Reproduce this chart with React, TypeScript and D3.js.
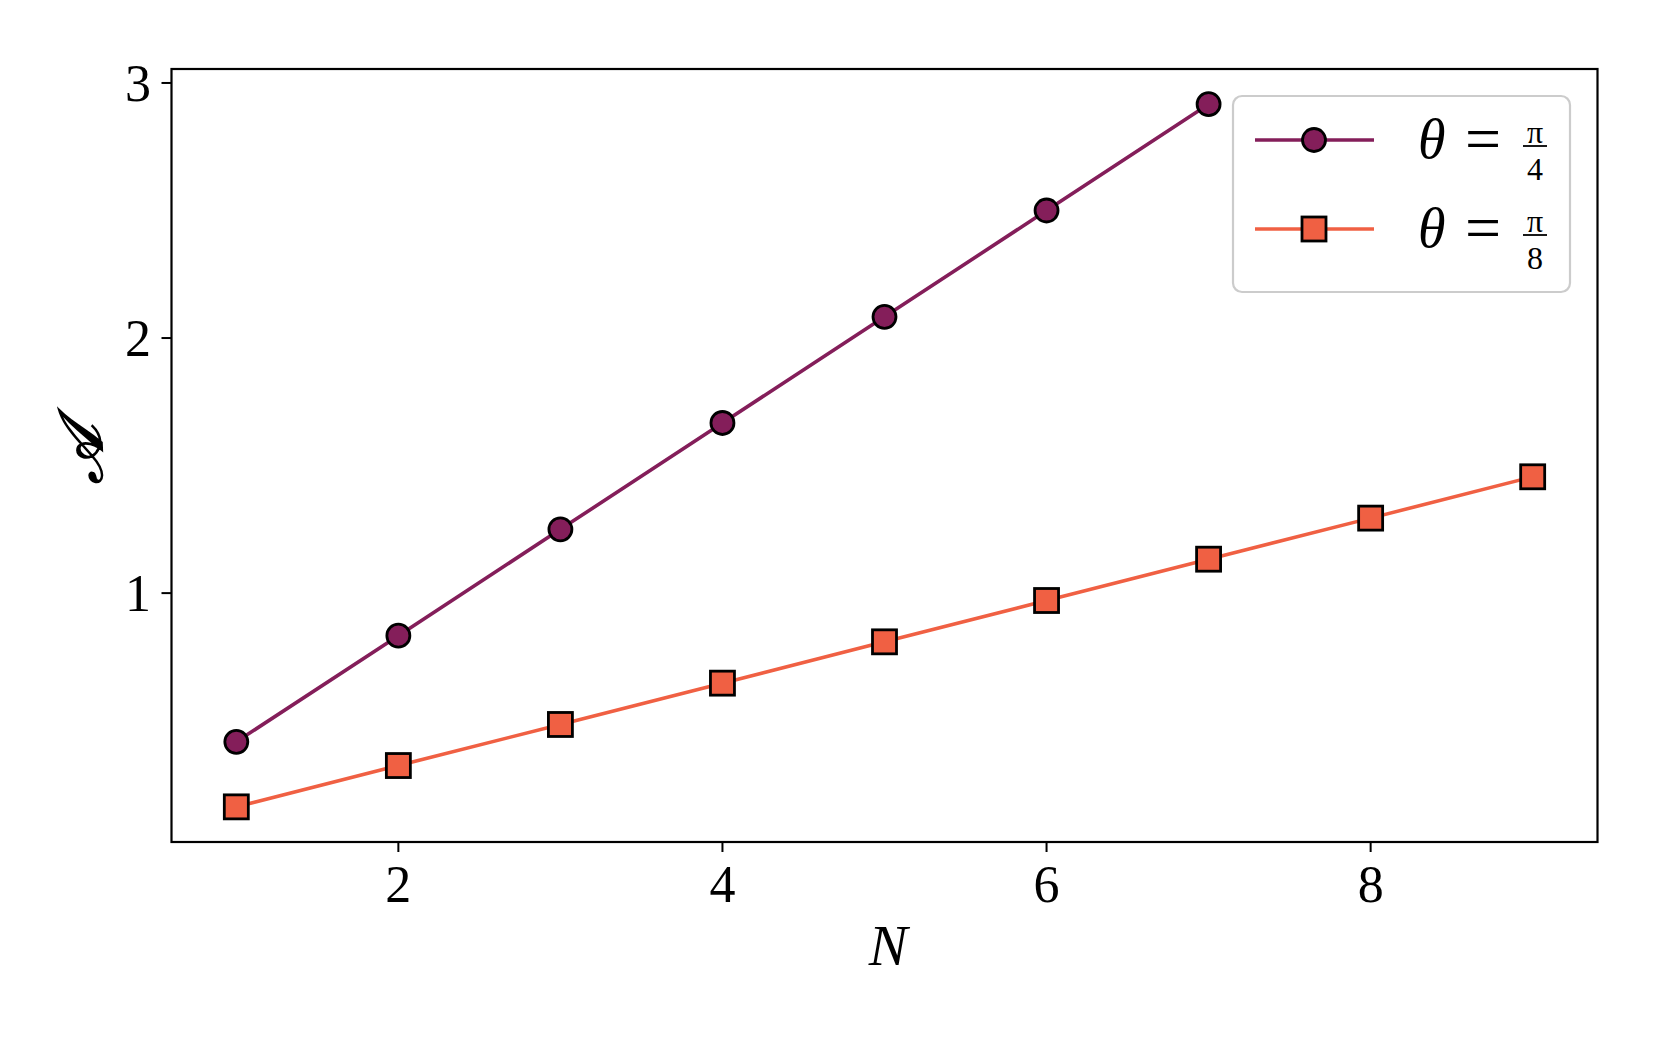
import React from 'react';
import * as d3 from 'd3';

const nPi4 = [1, 2, 3, 4, 5, 6, 7];
const aPi4 = [0.417, 0.833, 1.25, 1.667, 2.083, 2.5, 2.917];
const nPi8 = [1, 2, 3, 4, 5, 6, 7, 8, 9];
const aPi8 = [0.162, 0.324, 0.485, 0.647, 0.809, 0.971, 1.133, 1.294, 1.456];
const xTicks = [2, 4, 6, 8];
const yTicks = [1, 2, 3];
const legendDenoms = ['4', '8'];

const W = 1661;
const H = 1038;
const L = 171.5, R = 1597.5, T = 69, B = 842;
const PURPLE = '#841e5a';
const ORANGE = '#f06043';
const SERIF = '"Liberation Serif", "DejaVu Serif", serif';

export default function App() {
  const allN = [...nPi4, ...nPi8];
  const allA = [...aPi4, ...aPi8];
  const [xmin, xmax] = d3.extent(allN) as [number, number];
  const [ymin, ymax] = d3.extent(allA) as [number, number];
  const xp = (xmax - xmin) * 0.05;
  const yp = (ymax - ymin) * 0.05;
  const x = d3.scaleLinear().domain([xmin - xp, xmax + xp]).range([L, R]);
  const y = d3.scaleLinear().domain([ymin - yp, ymax + yp]).range([B, T]);
  const line = d3.line<[number, number]>().x(d => x(d[0])).y(d => y(d[1]));
  const d4 = line(nPi4.map((n, i) => [n, aPi4[i]]))!;
  const d8 = line(nPi8.map((n, i) => [n, aPi8[i]]))!;

  const legRows = [
    { color: PURPLE, marker: 'circle', cy: 140, den: legendDenoms[0] },
    { color: ORANGE, marker: 'square', cy: 229, den: legendDenoms[1] },
  ];

  return (
    <svg width={W} height={H} style={{ position: 'absolute', left: 0, top: 0, background: '#fff' }}>
      <rect x={0} y={0} width={W} height={H} fill="#fff" />
      {/* lines */}
      <path d={d4} fill="none" stroke={PURPLE} strokeWidth={3.6} />
      <path d={d8} fill="none" stroke={ORANGE} strokeWidth={3.6} />
      {nPi4.map((n, i) => (
        <circle key={'c' + i} cx={x(n)} cy={y(aPi4[i])} r={11.5} fill={PURPLE} stroke="#000" strokeWidth={2.8} />
      ))}
      {nPi8.map((n, i) => (
        <rect key={'s' + i} x={x(n) - 12} y={y(aPi8[i]) - 12} width={24} height={24} fill={ORANGE} stroke="#000" strokeWidth={2.8} />
      ))}
      {/* frame */}
      <rect x={L} y={T} width={R - L} height={B - T} fill="none" stroke="#000" strokeWidth={2.2} />
      {/* x ticks */}
      {xTicks.map(t => (
        <g key={'xt' + t}>
          <line x1={x(t)} x2={x(t)} y1={B} y2={B + 10} stroke="#000" strokeWidth={2} />
          <text x={x(t)} y={902} textAnchor="middle" fontFamily={SERIF} fontSize={52} fill="#000">{t}</text>
        </g>
      ))}
      {/* y ticks */}
      {yTicks.map(t => (
        <g key={'yt' + t}>
          <line x1={L - 10} x2={L} y1={y(t)} y2={y(t)} stroke="#000" strokeWidth={2} />
          <text x={151} y={y(t)} dy="0.34em" textAnchor="end" fontFamily={SERIF} fontSize={52} fill="#000">{t}</text>
        </g>
      ))}
      {/* axis labels */}
      <text x={888} y={965} textAnchor="middle" fontFamily={SERIF} fontStyle="italic" fontSize={58} fill="#000">N</text>
      <text transform="translate(102,454) rotate(-90)" textAnchor="middle" fontFamily={SERIF} fontStyle="italic" fontSize={62} fill="#000" stroke="#000" strokeWidth={1.6}>𝒜</text>
      {/* legend */}
      <rect x={1233} y={96} width={337} height={196} rx={9} ry={9} fill="#fff" fillOpacity={0.8} stroke="#cccccc" strokeWidth={2.2} />
      {legRows.map((r, i) => (
        <g key={'lg' + i}>
          <line x1={1255} x2={1374} y1={r.cy} y2={r.cy} stroke={r.color} strokeWidth={3.6} />
          {r.marker === 'circle' ? (
            <circle cx={1314} cy={r.cy} r={11.5} fill={r.color} stroke="#000" strokeWidth={2.8} />
          ) : (
            <rect x={1314 - 12} y={r.cy - 12} width={24} height={24} fill={r.color} stroke="#000" strokeWidth={2.8} />
          )}
          <text x={1418} y={r.cy + 18} fontFamily={SERIF} fontStyle="italic" fontSize={56} fill="#000">θ</text>
          <text x={1483} y={r.cy + 20} textAnchor="middle" fontFamily={SERIF} fontSize={64} fill="#000">=</text>
          <text x={1535} y={r.cy + 3} textAnchor="middle" fontFamily={SERIF} fontSize={32} fill="#000">π</text>
          <line x1={1523} x2={1547} y1={r.cy + 6} y2={r.cy + 6} stroke="#000" strokeWidth={1.8} />
          <text x={1535} y={r.cy + 40} textAnchor="middle" fontFamily={SERIF} fontSize={32} fill="#000">{r.den}</text>
        </g>
      ))}
    </svg>
  );
}
